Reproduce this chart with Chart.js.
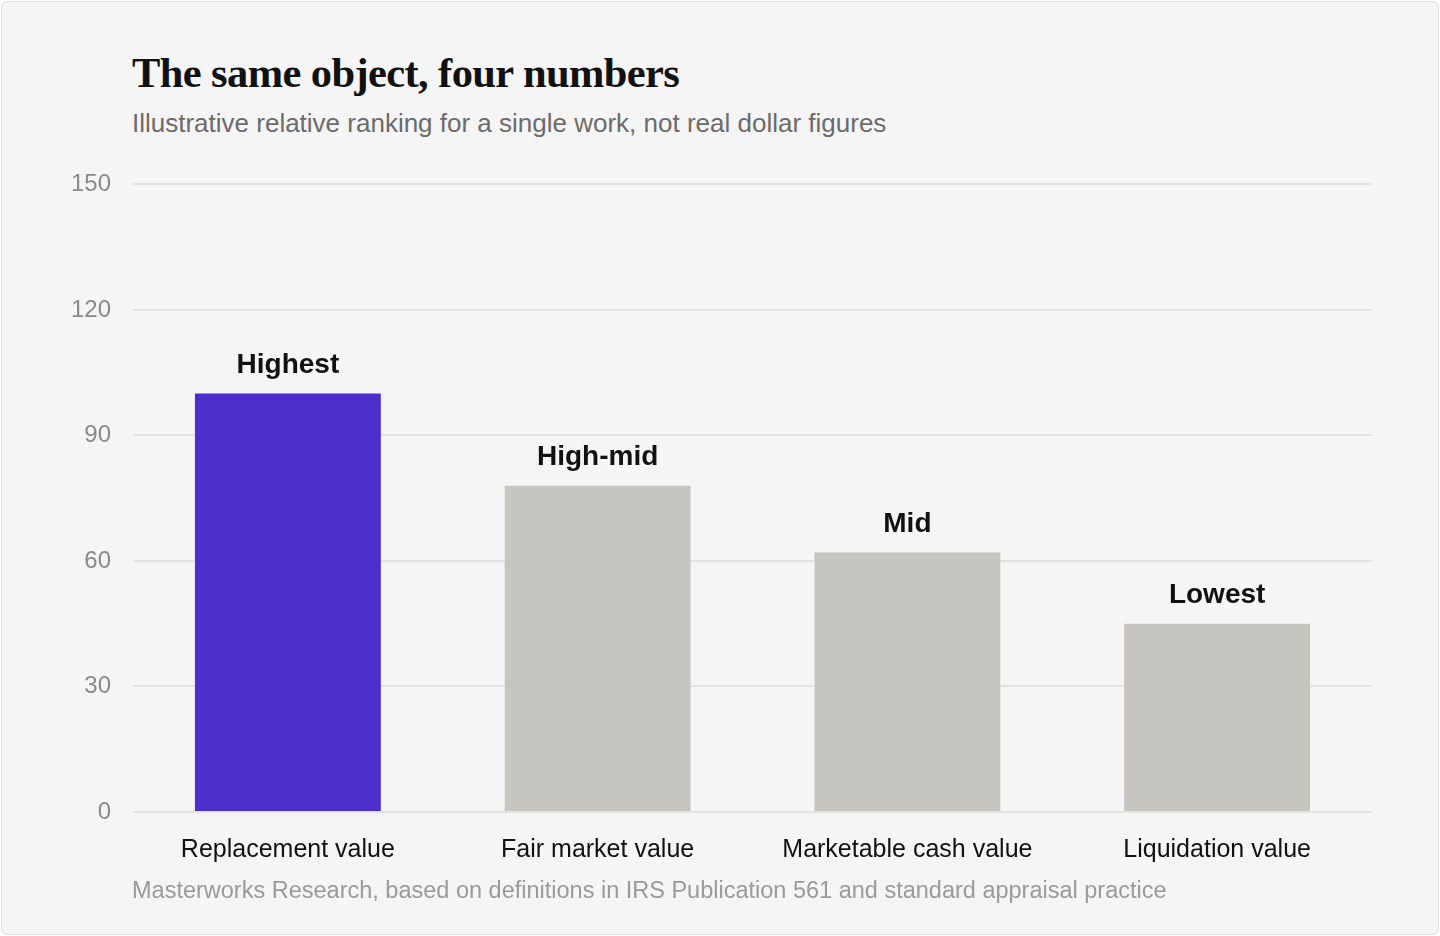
<!DOCTYPE html>
<html>
<head>
<meta charset="utf-8">
<script src="https://cdn.jsdelivr.net/npm/chart.js"></script>
<style>
  html, body { margin: 0; padding: 0; background: #ffffff; }
  .card {
    position: absolute; left: 1px; top: 1px; width: 1436px; height: 932px;
    background: #f5f5f5; border: 1px solid #e0e0e0; border-radius: 6px;
    overflow: hidden;
  }
  .title {
    position: absolute; left: 130px; top: 50px; margin: 0;
    font-family: "Liberation Serif", "DejaVu Serif", serif; font-weight: 700;
    font-size: 42.5px; letter-spacing: -0.6px; color: #111; line-height: 1;
  }
  .subtitle {
    position: absolute; left: 130px; top: 108px; margin: 0;
    font-family: "Liberation Sans", Arial, sans-serif; font-size: 26px;
    color: #6b6b6b; line-height: 1;
  }
  .chart-box { position: absolute; left: -2px; top: 146px; width: 1440px; height: 733px; }
  .source {
    position: absolute; left: 130px; top: 877px; margin: 0;
    font-family: "Liberation Sans", Arial, sans-serif; font-size: 23.5px;
    color: #9a9a9a; line-height: 1;
  }
</style>
</head>
<body>
<div class="card">
  <h1 class="title">The same object, four numbers</h1>
  <p class="subtitle">Illustrative relative ranking for a single work, not real dollar figures</p>
  <div class="chart-box"><canvas id="valueChart"></canvas></div>
  <p class="source">Masterworks Research, based on definitions in IRS Publication 561 and standard appraisal practice</p>
</div>
<script>
const categories = ['Replacement value', 'Fair market value', 'Marketable cash value', 'Liquidation value'];
const values = [100, 78, 62, 45];
const rankLabels = ['Highest', 'High-mid', 'Mid', 'Lowest'];
const barColors = ['#4b2ecb', '#c6c5c0', '#c6c5c0', '#c6c5c0'];
const yTicks = [0, 30, 60, 90, 120, 150];

// 各棒の上にランク名を描く
const rankLabelPlugin = {
    id: 'rankLabels',
    afterDatasetsDraw(chart) {
        const ctx = chart.ctx;
        const meta = chart.getDatasetMeta(0);
        ctx.save();
        ctx.font = 'bold 28px "Liberation Sans", Arial, sans-serif';
        ctx.fillStyle = '#111111';
        ctx.textAlign = 'center';
        ctx.textBaseline = 'alphabetic';
        meta.data.forEach((bar, i) => {
            ctx.fillText(rankLabels[i], bar.x, bar.y - 21);
        });
        ctx.restore();
    }
};

new Chart(document.getElementById('valueChart').getContext('2d'), {
    type: 'bar',
    data: {
        labels: categories,
        datasets: [{
            data: values,
            backgroundColor: barColors,
            borderWidth: 0,
            barPercentage: 1,
            categoryPercentage: 0.6
        }]
    },
    options: {
        responsive: true,
        maintainAspectRatio: false,
        animation: false,
        layout: { padding: { top: 12, right: 68, bottom: 0, left: 0 } },
        plugins: {
            legend: { display: false },
            tooltip: { enabled: false }
        },
        scales: {
            x: {
                grid: { display: false },
                border: { display: false },
                afterFit(scale) { scale.height = 69; },
                ticks: {
                    padding: 15,
                    color: '#111111',
                    font: { family: '"Liberation Sans", Arial, sans-serif', size: 25 }
                }
            },
            y: {
                min: 0,
                max: 150,
                afterFit(scale) { scale.width = 133; },
                afterBuildTicks(scale) { scale.ticks = yTicks.map(v => ({ value: v })); },
                border: { display: false },
                grid: { color: '#e3e3e3', lineWidth: 2, drawTicks: false },
                ticks: {
                    padding: 22,
                    color: '#8a8a8a',
                    font: { family: '"Liberation Sans", Arial, sans-serif', size: 24 }
                }
            }
        }
    },
    plugins: [rankLabelPlugin]
});
</script>
</body>
</html>
